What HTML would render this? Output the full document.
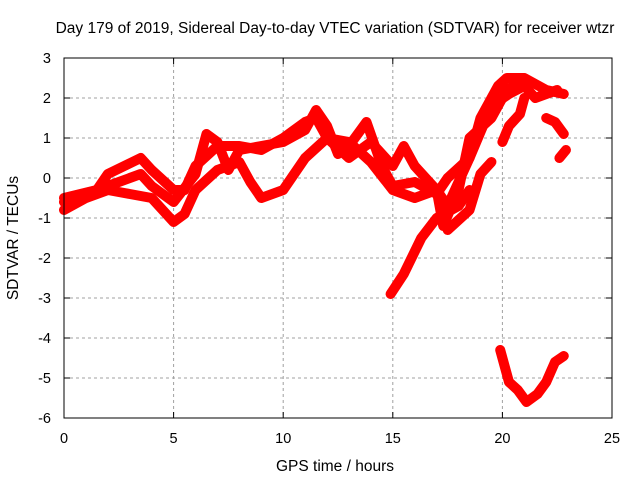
<!DOCTYPE html>
<html><head><meta charset="utf-8"><style>
body{margin:0;background:#fff}
svg{font-family:"Liberation Sans",sans-serif}
</style></head><body>
<svg id="chart" width="640" height="480">
<text x="335" y="33" text-anchor="middle" font-size="15.5">Day 179 of 2019, Sidereal Day-to-day VTEC variation (SDTVAR) for receiver wtzr</text>
<text x="335" y="471" text-anchor="middle" font-size="15.5">GPS time / hours</text>
<text transform="translate(18,238) rotate(-90)" text-anchor="middle" font-size="15.5">SDTVAR / TECUs</text>
<g id="grid"></g><g id="series"></g><g id="axes"></g>
</svg>
<script>
const xTicks=[0,5,10,15,20,25];
const yTicks=[3,2,1,0,-1,-2,-3,-4,-5,-6];
const trackA=[[0,-0.8],[1,-0.5],[2,-0.3],[3,-0.4],[4,-0.5],[5,-1.1],[5.5,-0.9],[6,-0.3],[7,0.2],[8,0.4],[8.5,-0.1],[9,-0.5],[10,-0.3],[11,0.5],[12,1.0],[13,0.9],[14,0.4],[15,-0.3],[16,-0.5],[17,-0.3],[17.5,-0.7],[18.5,0.5],[19.5,1.8],[20.3,2.1],[21,2.3],[21.5,2.0],[22.5,2.2]];
const trackB=[[0,-0.6],[2,-0.2],[3,0],[3.5,0.1],[4,-0.2],[5,-0.6],[6,0.1],[6.5,1.1],[7,0.9],[7.5,0.2],[8,0.7],[9,0.8],[10,0.9],[11,1.2],[11.5,1.7],[12,1.3],[12.5,0.6],[13,0.8],[13.8,1.4],[14.5,0.3],[15,-0.2],[16,-0.1],[17,-0.4],[17.5,0],[18.5,0.5],[19,1.5],[19.8,2.3],[20.2,2.5],[21,2.5],[22,2.2],[22.8,2.1]];
const trackC=[[0,-0.5],[1.5,-0.3],[2,0.1],[3.5,0.5],[4,0.2],[5,-0.3],[5.5,-0.3],[6,0.3],[7,0.8],[8,0.8],[9,0.7],[10,1.0],[11,1.4],[11.5,1.5],[12,1.0],[13,0.5],[14,0.9],[15,0.3],[15.5,0.8],[16,0.3],[17,-0.3],[17.3,-1.2],[18,-0.3],[18.5,1.0],[19.5,1.5],[20.2,2.2],[20.8,2.4]];
const trackD=[[14.9,-2.9],[15.5,-2.4],[16.3,-1.5],[17,-1.0],[18,-0.7],[18.5,-0.3]];
const trackE=[[17.5,-1.3],[18.5,-0.8],[19,0.1],[19.5,0.4]];
const trackF=[[20,0.9],[20.3,1.3],[20.8,1.6],[21,2.0]];
const trackG=[[22,1.5],[22.4,1.4],[22.8,1.1]];
const trackH=[[22.6,0.5],[22.9,0.7]];
const trackV=[[19.9,-4.3],[20.3,-5.1],[20.7,-5.3],[21.1,-5.6],[21.6,-5.4],[22,-5.1],[22.4,-4.6],[22.8,-4.45]];
const tracks=[trackA,trackB,trackC,trackD,trackE,trackF,trackG,trackH,trackV];
const X0=64,X1=612,Y0=58,Y1=418;
const xs=h=>X0+(h-0)/25*(X1-X0);
const ys=v=>Y0+(3-v)/9*(Y1-Y0);
const NS="http://www.w3.org/2000/svg";
function mk(tag,attrs,parent){const e=document.createElementNS(NS,tag);for(const k in attrs)e.setAttribute(k,attrs[k]);parent.appendChild(e);return e;}
const grid=document.getElementById('grid'),axes=document.getElementById('axes'),ser=document.getElementById('series');
xTicks.forEach(t=>{
 if(t>0&&t<25){const l=mk('line',{x1:xs(t),x2:xs(t),y1:Y0,y2:Y1,stroke:'#a0a0a0','stroke-dasharray':'3,3'},grid);
 
 }
 const tx=mk('text',{x:xs(t),y:Y1+25,'text-anchor':'middle','font-size':'14.5'},axes);tx.textContent=t;
 
 
 mk('line',{x1:xs(t),x2:xs(t),y1:Y1,y2:Y1-6,stroke:'#000'},axes);
 mk('line',{x1:xs(t),x2:xs(t),y1:Y0,y2:Y0+6,stroke:'#000'},axes);
});
yTicks.forEach(t=>{
 if(t<3&&t>-6){const l=mk('line',{x1:X0,x2:X1,y1:ys(t),y2:ys(t),stroke:'#a0a0a0','stroke-dasharray':'3,3'},grid);
 
 }
 const tx=mk('text',{x:X0-13,y:ys(t)+5,'text-anchor':'end','font-size':'14.5'},axes);tx.textContent=t;
 
 
 mk('line',{x1:X0,x2:X0+6,y1:ys(t),y2:ys(t),stroke:'#000'},axes);
 mk('line',{x1:X1,x2:X1-6,y1:ys(t),y2:ys(t),stroke:'#000'},axes);
});
const fr=mk('rect',{x:X0,y:Y0,width:X1-X0,height:Y1-Y0,fill:'none',stroke:'#000'},axes);


tracks.forEach((tr,i)=>{
 const p=mk('polyline',{points:tr.map(d=>xs(d[0])+','+ys(d[1])).join(' '),fill:'none',stroke:'#ff0000','stroke-width':'10','stroke-linejoin':'round','stroke-linecap':'round'},ser);
 
 
});
</script>
</body></html>
